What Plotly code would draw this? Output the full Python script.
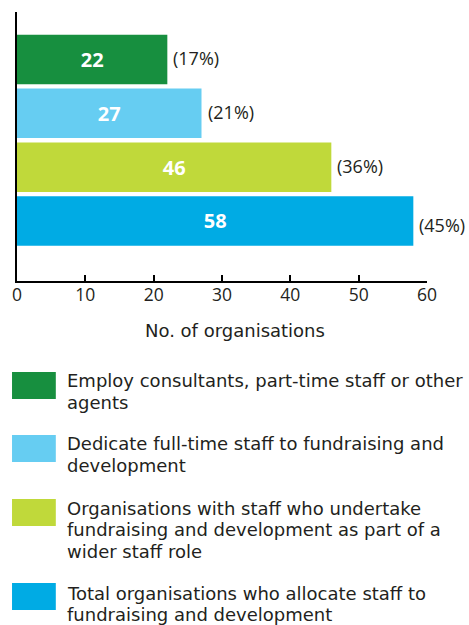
import plotly.graph_objects as go

categories = [
    "Employ consultants, part-time staff or other agents",
    "Dedicate full-time staff to fundraising and development",
    "Organisations with staff who undertake fundraising and development as part of a wider staff role",
    "Total organisations who allocate staff to fundraising and development",
]
values = [22, 27, 46, 58]
percents = ["17%", "21%", "36%", "45%"]
colors = ["#178F3F", "#66CDF2", "#C0D93A", "#00ABE4"]
legend_lines = [
    ["Employ consultants, part-time staff or other", "agents"],
    ["Dedicate full-time staff to fundraising and", "development"],
    ["Organisations with staff who undertake", "fundraising and development as part of a", "wider staff role"],
    ["Total organisations who allocate staff to", "fundraising and development"],
]
x_ticks = [0, 10, 20, 30, 40, 50, 60]

FONT = "Open Sans"
LFONT = "DejaVu Sans"
TXT = "#231F20"
W, H = 469, 625
L, R, T, B = 15, 42, 12, 344
PH = H - T - B  # plot height
PW = W - L - R


def px_x(px):
    return (px - L) / PW


def px_y(py):
    return (H - B - py) / PH


fig = go.Figure()
fig.add_trace(go.Bar(
    y=list(range(len(values))),
    x=values,
    orientation="h",
    marker=dict(color=colors, line=dict(width=0)),
    width=0.92,
    text=[str(v) for v in values],
    textposition="inside",
    insidetextanchor="middle",
    textfont=dict(family=FONT, size=20, color="white", weight="bold"),
    hoverinfo="skip",
))

annotations = []
for i, (v, p) in enumerate(zip(values, percents)):
    annotations.append(dict(
        x=v, y=i, xref="x", yref="y", text=f"({p})", showarrow=False,
        xanchor="left", yanchor="middle", xshift=4, yshift=(-4 if i == 3 else 1),
        font=dict(family=FONT, size=18, color=TXT),
    ))

annotations.append(dict(
    x=px_x(234), y=px_y(330), xref="paper", yref="paper", text="No. of organisations",
    showarrow=False, xanchor="center", yanchor="middle",
    font=dict(family=LFONT, size=18, color=TXT),
))

square_tops = [372, 435, 499, 583]
line_centers = [[381, 402], [444, 465], [508, 529.5], [593, 614]]
line_centers[2].append(551)
shapes = []
for i, c in enumerate(colors):
    top = square_tops[i]
    shapes.append(dict(
        type="rect", xref="paper", yref="paper",
        x0=px_x(10), x1=px_x(54), y0=px_y(top + 27), y1=px_y(top),
        fillcolor=c, line=dict(width=0),
    ))
    for line, cy in zip(legend_lines[i], line_centers[i]):
        annotations.append(dict(
            x=px_x(64), y=px_y(cy), xref="paper", yref="paper", text=line,
            showarrow=False, xanchor="left", yanchor="middle", borderpad=0,
            font=dict(family=LFONT, size=18, color=TXT),
        ))

fig.update_layout(
    width=W, height=H,
    margin=dict(l=L, r=R, t=T, b=B, pad=0),
    paper_bgcolor="white", plot_bgcolor="white",
    showlegend=False,
    annotations=annotations,
    shapes=shapes,
    xaxis=dict(
        range=[0, 60], tickvals=x_ticks, ticktext=[str(t) for t in x_ticks],
        showgrid=False, zeroline=False,
        showline=True, linecolor="black", linewidth=2,
        ticks="inside", ticklen=6, tickwidth=2, tickcolor="black",
        tickfont=dict(family=FONT, size=17.5, color=TXT),
        ticklabelstandoff=-3,
        fixedrange=True,
    ),
    yaxis=dict(
        range=[4.115, -0.882], showticklabels=False, showgrid=False, zeroline=False,
        showline=True, linecolor="black", linewidth=2, ticks="",
        fixedrange=True,
    ),
)

fig.write_html(
    "out.html",
    config={"displayModeBar": False},
    post_script="document.body.style.margin='0';document.body.style.overflow='hidden';",
)
